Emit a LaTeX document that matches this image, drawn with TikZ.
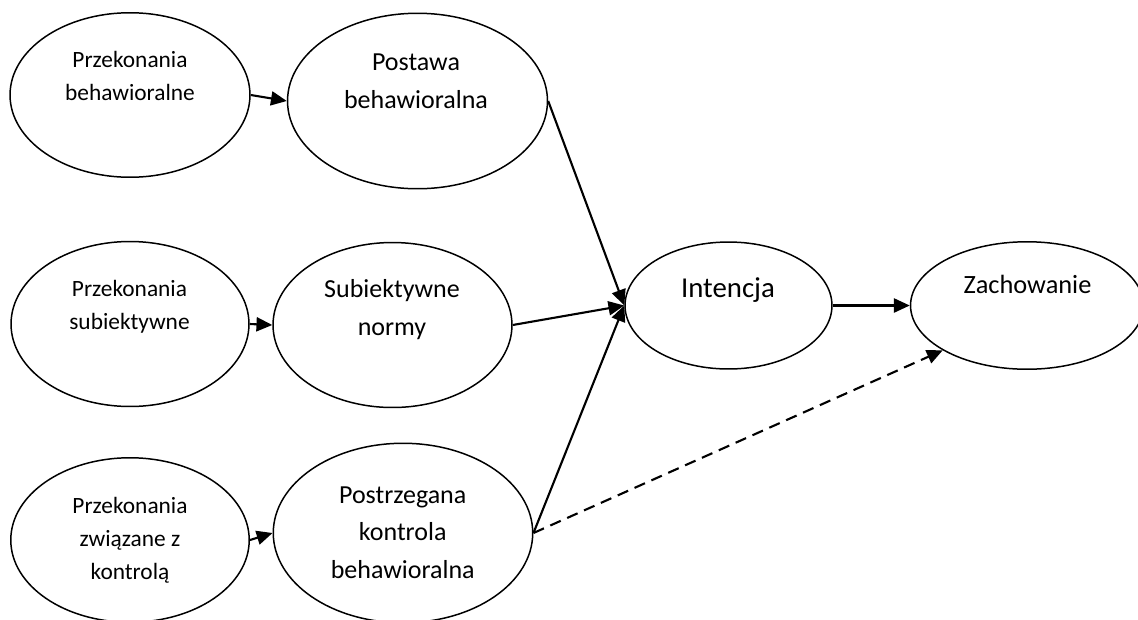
\documentclass[tikz,border=0pt]{standalone}
\usepackage{fontspec}
\setmainfont{Carlito}
\usetikzlibrary{shapes.geometric,arrows.meta}
\begin{document}
\begin{tikzpicture}[x=0.02cm,y=-0.02cm,
  oval/.style={draw, ellipse, line width=0.85pt, inner sep=0pt},
  leftlbl/.style={align=center, font=\fontsize{13.3}{18.8}\selectfont, inner sep=0pt, anchor=base},
  midlbl/.style={align=center, font=\fontsize{14.8}{21.3}\selectfont, inner sep=0pt, anchor=base},
  link/.style={-{Triangle[length=9pt,width=8pt]}, line width=1.2pt},
  dlink/.style={link, dash pattern=on 6.5pt off 4pt}]
\useasboundingbox (0,0) rectangle (1138,619);
\clip (0,0) rectangle (1138,619);

% ovals
\node[oval, minimum width=4.8cm,  minimum height=3.29cm] (pb)  at (130,95)    {};
\node[oval, minimum width=5.2cm,  minimum height=3.51cm] (pos) at (417.5,101) {};
\node[oval, minimum width=4.76cm, minimum height=3.3cm]  (ps)  at (130,324)   {};
\node[oval, minimum width=4.78cm, minimum height=3.3cm]  (sn)  at (392.5,325) {};
\node[oval, minimum width=4.77cm, minimum height=3.29cm] (pk)  at (130,540)   {};
\node[oval, minimum width=5.19cm, minimum height=3.59cm] (pkb) at (403,533)   {};
\node[oval, minimum width=4.14cm, minimum height=2.54cm] (int) at (728.5,305.5) {};
\node[oval, minimum width=4.66cm, minimum height=2.55cm] (zach) at (1027,305.5) {};

% labels (anchored at the baseline of their last line)
\node[leftlbl] (tpb)  at (130,100.7)   {Przekonania\\behawioralne};
\node[midlbl]  (tpos) at (416,108.3)   {Postawa\\behawioralna};
\node[leftlbl] (tps)  at (129.5,329.3) {Przekonania\\subiektywne};
\node[midlbl]  (tsn)  at (392,335)     {Subiektywne\\normy};
\node[leftlbl] (tpk)  at (130,579.3)   {Przekonania\\związane z\\kontrolą};
\node[midlbl]  (tpkb) at (402.7,578.3) {Postrzegana\\kontrola\\behawioralna};
\node[anchor=base, inner sep=0pt, font=\fontsize{16.4}{20}\selectfont] (tint) at (728,297) {Intencja};
\node[anchor=base, inner sep=0pt, font=\fontsize{15}{18}\selectfont] (tzach) at (1027.5,293.3) {Zachowanie};

% connectors
\draw[link] (pb.east) -- (pos.west);
\draw[link] (ps.east) -- (sn.west);
\draw[link] (pk.east) -- (pkb.west);
\draw[link] (pos.east) -- (int.west);
\draw[link] (sn.east) -- (int.west);
\draw[link] (pkb.east) -- (int.west);
\draw[link] (int.east) -- (zach.west);
\draw[dlink] (pkb.east) -- (zach.208);
\end{tikzpicture}
\end{document}
